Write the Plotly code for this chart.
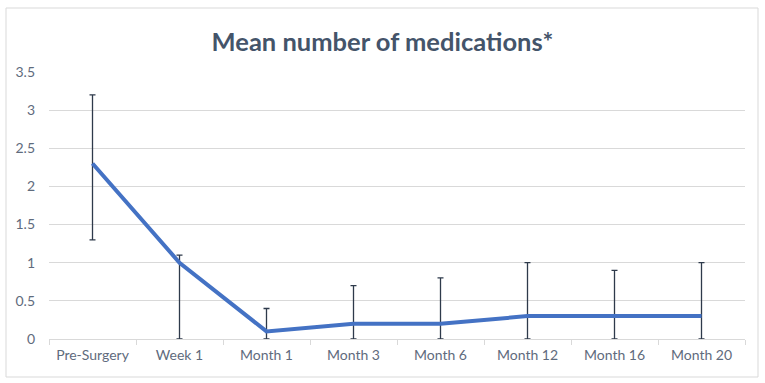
import plotly.graph_objects as go

categories = ["Pre-Surgery", "Week 1", "Month 1", "Month 3", "Month 6", "Month 12", "Month 16", "Month 20"]
mean_meds = [2.3, 1.0, 0.1, 0.2, 0.2, 0.3, 0.3, 0.3]
err_plus = [0.9, 0.1, 0.3, 0.5, 0.6, 0.7, 0.6, 0.7]
err_minus = [1.0, 1.0, 0.1, 0.2, 0.2, 0.3, 0.3, 0.3]
y_ticks = [0, 0.5, 1, 1.5, 2, 2.5, 3, 3.5]
y_tick_labels = ["0", "0.5", "1", "1.5", "2", "2.5", "3", "3.5"]

W, H = 765, 383
ml, mr, mt, mb = 49, 20, 72, 44
pw, ph = W - ml - mr, H - mt - mb

fig = go.Figure()
fig.add_trace(go.Scatter(
    x=categories, y=mean_meds, mode="lines",
    line=dict(color="#4472C4", width=4),
    error_y=dict(type="data", symmetric=False, array=err_plus, arrayminus=err_minus,
                 color="#2E3A4B", thickness=1.3, width=3),
    showlegend=False,
))

def px_x(p):
    return (p - ml) / pw

def px_y(p):
    return (H - mb - p) / ph

fig.add_shape(type="rect", xref="paper", yref="paper",
              x0=px_x(6), x1=px_x(758), y0=px_y(377), y1=px_y(8),
              line=dict(color="#D9D9D9", width=1), layer="below")

fig.update_layout(
    width=W, height=H,
    margin=dict(l=ml, r=mr, t=mt, b=mb),
    paper_bgcolor="white", plot_bgcolor="white",
    font=dict(family="Lato, Open Sans, sans-serif", color="#5F6B7D", size=14),
    title=dict(text="<b>Mean number of medications*</b>", x=0.5, xref="container",
               y=1 - 42 / H, yref="container", yanchor="middle", xanchor="center",
               font=dict(size=25.5, color="#44546A", family="Lato, Open Sans, sans-serif")),
    xaxis=dict(
        type="category", showgrid=False, showline=True, linecolor="#D9D9D9", linewidth=1,
        ticks="outside", tickson="boundaries", ticklen=5, tickcolor="#D9D9D9",
        ticklabelstandoff=3, tickfont=dict(size=14, color="#5F6B7D"),
        range=[-0.5, len(categories) - 0.5],
    ),
    yaxis=dict(
        range=[0, 3.5], tickvals=y_ticks, ticktext=y_tick_labels,
        showgrid=True, gridcolor="#D9D9D9", gridwidth=1, zeroline=False,
        showline=False, ticks="", ticklabelstandoff=13,
        tickfont=dict(size=14, color="#5F6B7D"),
    ),
)

fig.write_html("out.html")
